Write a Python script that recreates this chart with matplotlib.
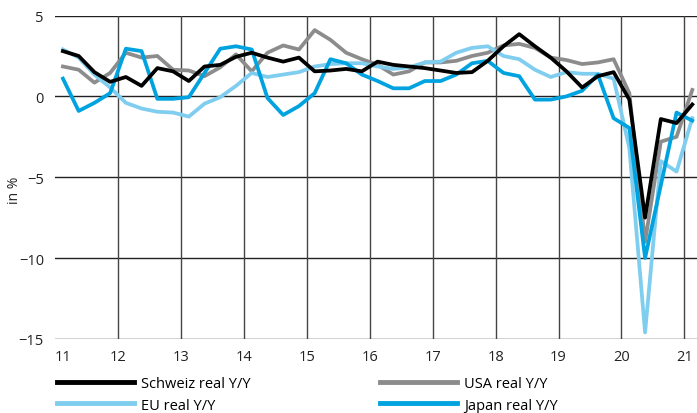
import numpy as np
import matplotlib
matplotlib.use("Agg")
import matplotlib.pyplot as plt

plt.rcParams['font.family'] = ['Open Sans', 'DejaVu Sans']

# quarterly real GDP growth Y/Y, 2011 Q1 .. 2021 Q1
schweiz = [2.8, 2.5, 1.5, 0.9, 1.2, 0.65, 1.75, 1.55, 0.95, 1.85, 1.95, 2.45,
           2.7, 2.4, 2.15, 2.4, 1.55, 1.6, 1.7, 1.55, 2.15, 1.95, 1.85, 1.75,
           1.6, 1.45, 1.5, 2.2, 3.1, 3.85, 3.1, 2.4, 1.55, 0.55, 1.25, 1.5,
           -0.2, -7.5, -1.4, -1.65, -0.5]
usa = [1.85, 1.65, 0.85, 1.45, 2.7, 2.4, 2.5, 1.65, 1.6, 1.25, 1.8, 2.6,
       1.55, 2.7, 3.15, 2.9, 4.1, 3.5, 2.7, 2.3, 1.95, 1.35, 1.55, 2.1,
       2.1, 2.2, 2.5, 2.7, 3.15, 3.25, 3.0, 2.4, 2.25, 2.0, 2.1, 2.3,
       0.2, -9.0, -2.8, -2.5, 0.4]
eu = [2.9, 2.4, 1.35, 0.55, -0.4, -0.75, -0.95, -1.0, -1.25, -0.45, -0.05, 0.65,
      1.45, 1.2, 1.35, 1.5, 1.85, 2.0, 2.05, 2.05, 1.85, 1.7, 1.8, 2.1,
      2.15, 2.7, 3.0, 3.1, 2.5, 2.3, 1.65, 1.2, 1.5, 1.4, 1.4, 1.1,
      -3.2, -14.6, -4.0, -4.65, -1.35]
japan = [1.1, -0.9, -0.4, 0.2, 2.95, 2.8, -0.15, -0.15, -0.05, 1.45, 2.95, 3.1,
         2.9, -0.1, -1.15, -0.6, 0.2, 2.3, 2.05, 1.35, 0.95, 0.5, 0.5, 0.95,
         0.95, 1.35, 2.05, 2.2, 1.45, 1.25, -0.2, -0.2, 0.0, 0.35, 1.35, -1.35,
         -1.95, -10.0, -5.5, -1.0, -1.5]

years = list(range(2011, 2022))
year_labels = ['11', '12', '13', '14', '15', '16', '17', '18', '19', '20', '21']

# quarter midpoints
x = 2011 + (np.arange(len(schweiz)) + 0.5) / 4

fig = plt.figure(figsize=(6.97, 4.14), dpi=100)
ax = fig.add_axes([0.079, 0.179, 0.921, 0.781])

for yv in [5, 0, -5, -10, -15]:
    ax.axhline(yv, color='#222222', lw=1.0, zorder=1)
for yr in years[1:]:
    ax.axvline(yr, color='#444444', lw=1.0, zorder=1)

lw = 2.7
l_usa, = ax.plot(x, usa, color='#8c8c8c', lw=lw, zorder=3)
l_eu, = ax.plot(x, eu, color='#7fcdef', lw=lw, zorder=3)
l_jp, = ax.plot(x, japan, color='#00a3e0', lw=lw, zorder=3)
l_ch, = ax.plot(x, schweiz, color='black', lw=lw, zorder=4)

ax.set_xlim(2011, 2021.2)
ax.set_ylim(-15, 5)
ax.set_yticks([5, 0, -5, -10, -15])
ax.set_xticks([y + (0.13 if y == 2011 else 0) for y in years])
ax.set_xticklabels(year_labels)
ax.tick_params(axis='both', length=0, labelsize=10.5, colors='#222222')
ax.tick_params(axis='x', pad=7)
ax.tick_params(axis='y', pad=8)
for s in ax.spines.values():
    s.set_visible(False)
fig.text(15 / 697, 1 - 190 / 414, 'in %', rotation=90, fontsize=10,
         color='#222222', ha='center', va='center')

# columns: (Schweiz, EU) and (USA, Japan) -> rows read Schweiz/USA, EU/Japan
leg = fig.legend([l_ch, l_eu, l_usa, l_jp],
                 ['Schweiz real Y/Y', 'EU real Y/Y', 'USA real Y/Y', 'Japan real Y/Y'],
                 ncol=2, loc='upper left', bbox_to_anchor=(0.071, 0.107),
                 frameon=False, fontsize=10.5, handlelength=5.3,
                 handletextpad=0.45, columnspacing=8.9, labelspacing=0.45,
                 borderpad=0)
for line in leg.get_lines():
    line.set_linewidth(3.5)

fig.savefig('out.png', dpi=100)
